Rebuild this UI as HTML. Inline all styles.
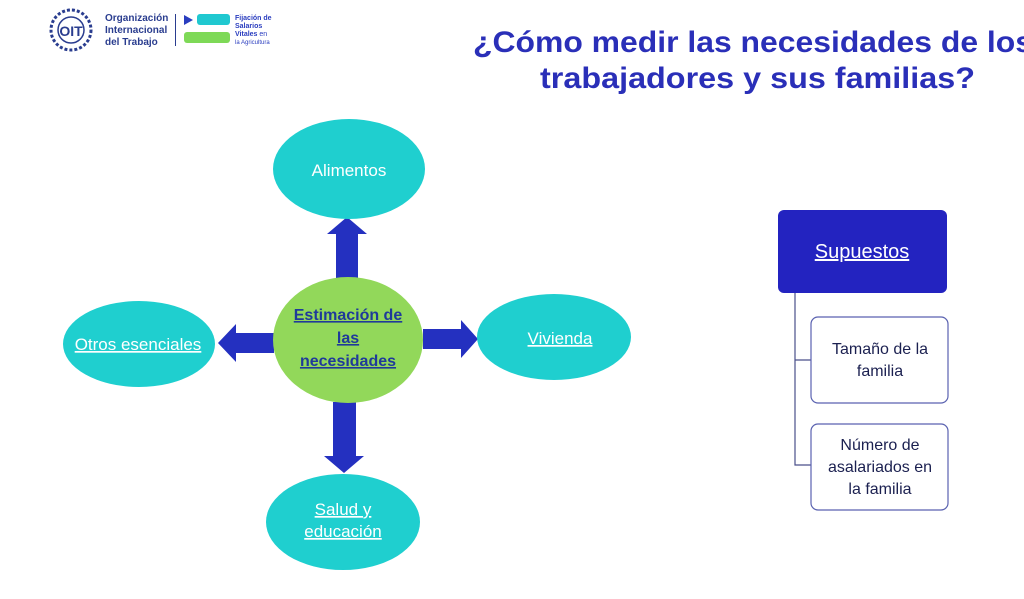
<!DOCTYPE html>
<html><head><meta charset="utf-8"><style>
html,body{margin:0;padding:0;background:#fff;overflow:hidden}
svg{display:block}
text{font-family:"Liberation Sans",sans-serif}
</style></head><body>
<svg width="1024" height="599" viewBox="0 0 1024 599" xmlns="http://www.w3.org/2000/svg">
<g>
<circle cx="71" cy="30" r="20" fill="none" stroke="#2a3d8f" stroke-width="3" stroke-dasharray="3 2"/>
<circle cx="71" cy="30" r="13" fill="none" stroke="#2a3d8f" stroke-width="1.5"/>
<text x="71" y="36" font-size="14" font-family="Liberation Serif" fill="#2a3d8f" text-anchor="middle" font-weight="bold">OIT</text>
<text x="105" y="21" font-size="10" font-weight="bold" fill="#2a3d8f">Organización</text>
<text x="105" y="33" font-size="10" font-weight="bold" fill="#2a3d8f">Internacional</text>
<text x="105" y="45" font-size="10" font-weight="bold" fill="#2a3d8f">del Trabajo</text>
<rect x="175" y="14" width="1" height="32" fill="#2a3d8f"/>
<polygon points="184,15 193,20 184,25" fill="#2a3dbf"/>
<rect x="197" y="14" width="33" height="11" rx="3" fill="#20c8d0"/>
<rect x="184" y="32" width="46" height="11" rx="3" fill="#7ed957"/>
<text x="235" y="20" font-size="7" font-weight="bold" fill="#2a3dbf">Fijación de</text>
<text x="235" y="28" font-size="7" font-weight="bold" fill="#2a3dbf">Salarios</text>
<text x="235" y="36" font-size="7" font-weight="bold" fill="#2a3dbf">Vitales <tspan font-weight="normal">en</tspan></text>
<text x="235" y="44" font-size="6" fill="#2a3dbf">la Agricultura</text>
</g>
<text x="473" y="52" font-size="30" font-weight="bold" fill="#2a2fb8" textLength="560" lengthAdjust="spacingAndGlyphs">¿Cómo medir las necesidades de los</text>
<text x="540" y="88" font-size="30" font-weight="bold" fill="#2a2fb8" textLength="435" lengthAdjust="spacingAndGlyphs">trabajadores y sus familias?</text>
<g fill="#2430c0">
<polygon points="336,278 336,234 327,234 347,217 367,234 358,234 358,278"/>
<polygon points="333,402 333,456 324,456 344,473 364,456 356,456 356,402"/>
<polygon points="423,329 461,329 461,320 478,339 461,358 461,349 423,349"/>
<polygon points="274,333 236,333 236,324 218,343 236,362 236,353 274,353"/>
</g>
<g fill="#1fcfcf">
<ellipse cx="349" cy="169" rx="76" ry="50"/>
<ellipse cx="554" cy="337" rx="77" ry="43"/>
<ellipse cx="139" cy="344" rx="76" ry="43"/>
<ellipse cx="343" cy="522" rx="77" ry="48"/>
</g>
<ellipse cx="348" cy="340" rx="75" ry="63" fill="#92d85a"/>
<g font-size="17" fill="#fff" text-anchor="middle">
<text x="349" y="176">Alimentos</text>
<text x="560" y="344" text-decoration="underline">Vivienda</text>
<text x="138" y="350" text-decoration="underline">Otros esenciales</text>
<text x="343" y="515" text-decoration="underline">Salud y</text>
<text x="343" y="537" text-decoration="underline">educación</text>
</g>
<g font-size="16" font-weight="bold" fill="#1f3a9a" text-anchor="middle" text-decoration="underline">
<text x="348" y="320">Estimación de</text>
<text x="348" y="343">las</text>
<text x="348" y="366">necesidades</text>
</g>
<path d="M795 293 V465 H811 M795 360 H811" stroke="#4a4f8a" stroke-width="1.2" fill="none"/>
<rect x="778" y="210" width="169" height="83" rx="6" fill="#2323c0"/>
<text x="862" y="258" font-size="20" fill="#fff" text-anchor="middle" text-decoration="underline">Supuestos</text>
<rect x="811" y="317" width="137" height="86" rx="7" fill="#fff" stroke="#5a62b0" stroke-width="1.2"/>
<rect x="811" y="424" width="137" height="86" rx="7" fill="#fff" stroke="#5a62b0" stroke-width="1.2"/>
<g font-size="16" fill="#1b2050" text-anchor="middle">
<text x="880" y="354">Tamaño de la</text>
<text x="880" y="376">familia</text>
<text x="880" y="450">Número de</text>
<text x="880" y="472">asalariados en</text>
<text x="880" y="494">la familia</text>
</g>
</svg>
</body></html>
